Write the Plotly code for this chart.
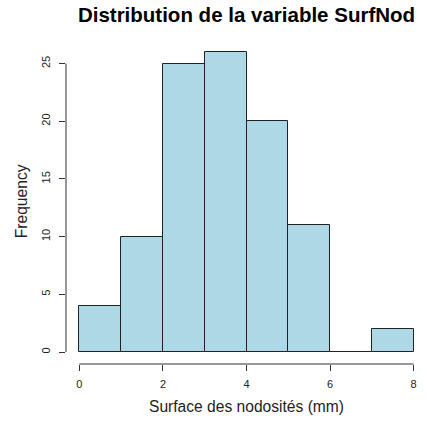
import plotly.graph_objects as go

bin_edges = [0, 1, 2, 3, 4, 5, 6, 7, 8]
counts = [4, 10, 25, 26, 20, 11, 0, 2]
x_ticks = [0, 2, 4, 6, 8]
y_ticks = [0, 5, 10, 15, 20, 25]

centers = [(a + b) / 2 for a, b in zip(bin_edges[:-1], bin_edges[1:])]
widths = [b - a for a, b in zip(bin_edges[:-1], bin_edges[1:])]

FONT = "Liberation Sans, Arial, sans-serif"

fig = go.Figure(go.Bar(
    x=centers, y=counts, width=widths,
    marker=dict(color="#ADD8E6", line=dict(color="#222222", width=1)),
    hoverinfo="skip",
))

xr = (bin_edges[-1] - bin_edges[0]) * 0.04
yr = max(counts) * 0.04
tick_font = dict(family=FONT, size=11, color="#222222")

fig.update_layout(
    width=427, height=421,
    margin=dict(l=66, r=0, t=40, b=57),
    plot_bgcolor="white", paper_bgcolor="white",
    showlegend=False,
    bargap=0,
    title=dict(text="<b>Distribution de la variable SurfNod</b>",
               x=246.5 / 427, xanchor="center", y=1 - 15 / 421, yanchor="middle",
               font=dict(family=FONT, size=20.5, color="black")),
    xaxis=dict(range=[bin_edges[0] - xr, bin_edges[-1] + xr], tickvals=x_ticks,
               ticks="outside", ticklen=6, tickcolor="#333333", showgrid=False,
               zeroline=False, showline=False, tickfont=tick_font, ticklabelstandoff=4),
    yaxis=dict(range=[-yr, max(counts) + yr], tickvals=y_ticks, tickangle=-90,
               ticks="outside", ticklen=6, tickcolor="#333333", showgrid=False,
               zeroline=False, showline=False, tickfont=tick_font, ticklabelstandoff=5),
    shapes=[
        dict(type="line", xref="x", yref="paper", x0=x_ticks[0], x1=x_ticks[-1], y0=0, y1=0,
             line=dict(color="#333333", width=1)),
        dict(type="line", xref="paper", yref="y", x0=0, x1=0, y0=y_ticks[0], y1=y_ticks[-1],
             line=dict(color="#333333", width=1)),
    ],
    annotations=[
        dict(text="Surface des nodosités (mm)", xref="paper", yref="paper",
             x=0.5, y=(364 - 406.5) / 323.5, xanchor="center", yanchor="middle", showarrow=False,
             font=dict(family=FONT, size=15.6, color="#222222")),
        dict(text="Frequency", xref="paper", yref="paper", textangle=-90,
             x=(21 - 65.6) / 361.4, y=(364 - 201) / 323.5, xanchor="center", yanchor="middle",
             showarrow=False,
             font=dict(family=FONT, size=15.6, color="#222222")),
    ],
)

fig.write_html("out.html", config={"displayModeBar": False},
               post_script="document.body.style.margin='0';")
